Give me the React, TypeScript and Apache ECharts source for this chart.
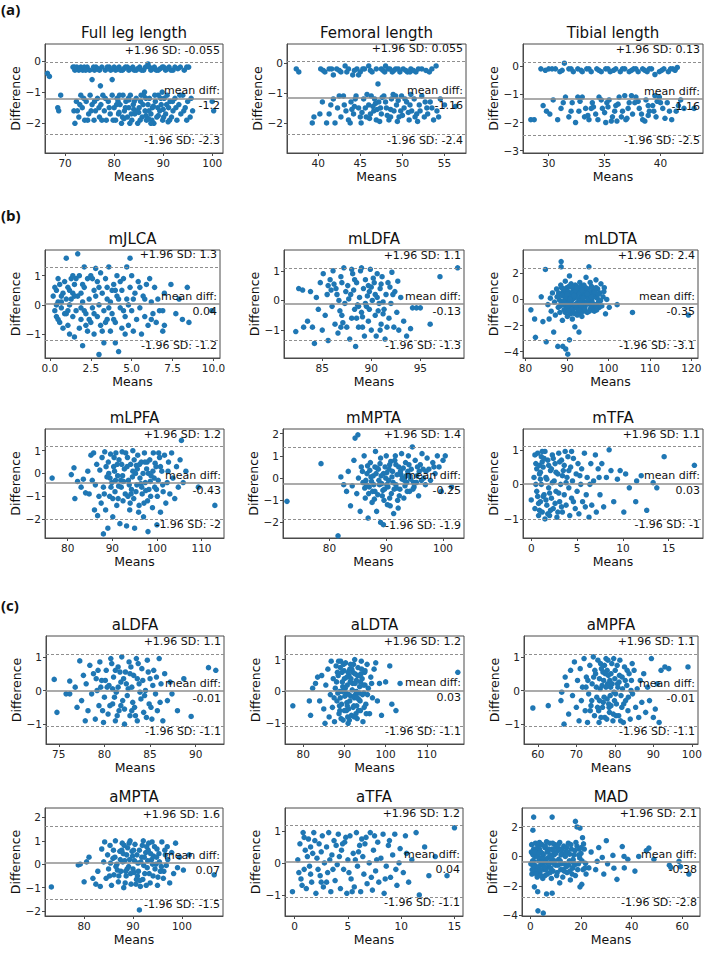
import React, { useEffect, useRef } from "react";
import * as echarts from "echarts";

// ---------- DATA ----------
const titles = ["Full leg length", "Femoral length", "Tibial length", "mJLCA", "mLDFA", "mLDTA", "mLPFA", "mMPTA", "mTFA", "aLDFA", "aLDTA", "aMPFA", "aMPTA", "aTFA", "MAD"];

const fullLegPts = [[71.6,-0.2],[72,-0.3],[72.4,-0.2],[72.8,-0.3],[73.2,-0.2],[73.6,-0.3],[74.5,-0.2],[75,-0.3],[75.5,-0.6],[76.3,-0.2],[77,-0.3],[77.5,-0.2],[78.2,-0.3],[79,-0.2],[79.6,-0.6],[80.3,-0.3],[81,-0.2],[81.7,-0.3],[82.3,-0.2],[83,-0.3],[83.8,-0.2],[84.5,-0.3],[85.2,-0.2],[86,-0.3],[86.9,-0.1],[87.5,-0.3],[88.2,-0.2],[89,-0.3],[89.8,-0.2],[90.5,-0.3],[91.2,-0.2],[92,-0.3],[93.5,-0.2],[94.3,-0.3],[95.2,-0.2],[66.4,-0.4],[66.8,-0.5],[77.2,-0.8],[76,-0.3],
[72.2,-0.25],[73,-0.25],[73.9,-0.2],[74.2,-0.3],[75.8,-0.2],[76.7,-0.25],[78.6,-0.2],[79.3,-0.3],[80,-0.2],[80.7,-0.25],[81.3,-0.3],[82,-0.25],[82.7,-0.2],[83.4,-0.25],[84.1,-0.3],[84.8,-0.25],[85.6,-0.3],[86.4,-0.2],[87.2,-0.2],[87.9,-0.25],[88.6,-0.3],[89.4,-0.25],[90.1,-0.2],[90.9,-0.25],[91.6,-0.3],[92.4,-0.2],[93,-0.25],[94.8,-0.2],[71.9,-0.2],
[68.5,-1.5],[68.7,-1.6],[69.1,-1.1],[72,-2.0],[71.8,-1.6],[72.3,-1.3],[72.8,-1.8],[73.2,-1.1],[73.5,-1.5],[74,-1.9],[74.3,-1.3],[74.8,-1.7],[75.1,-1.1],[75.5,-1.4],[75.9,-1.9],[76.2,-1.6],[76.6,-1.2],[77,-1.8],[77.3,-1.4],[77.7,-1.1],[78,-1.6],[78.4,-1.9],[78.8,-1.3],[79.2,-1.7],[79.6,-1.1],[80,-1.5],[80.3,-1.9],[80.6,-1.2],[80.9,-1.7],[81.2,-1.4],[81.5,-2.0],[81.8,-1.1],[82.1,-1.6],[82.4,-1.3],[82.7,-1.8],[83,-1.5],[83.3,-1.1],[83.6,-1.9],[83.9,-1.4],[84.2,-1.7],[84.5,-1.2],[84.8,-2.0],[85.1,-1.5],[85.4,-1.3],[85.7,-1.8],[86,-1.1],[86.3,-1.6],[86.6,-1.9],[86.9,-1.4],[87.2,-1.2],[87.5,-1.7],[87.8,-1.5],[88.1,-2.0],[88.4,-1.3],[88.7,-1.8],[89,-1.1],[89.3,-1.6],[89.6,-1.4],[89.9,-1.9],[90.2,-1.2],[90.5,-1.7],[90.8,-1.1],[91.1,-1.5],[91.4,-1.3],[91.7,-1.8],[92,-1.6],[92.4,-1.2],[92.8,-1.9],[93.2,-1.4],[93.6,-1.7],[94,-1.1],[94.5,-1.5],[95,-1.3],[95.5,-1.8],[96,-1.6],[100,-1.3],[100.3,-1.6],[84,-1.55],[86.5,-1.75],[82,-1.85],[88,-1.45],[90,-1.55],[85,-1.65],[87,-1.85],[83,-1.25],[81,-1.65],[89,-1.75],[91,-1.95],
[72.5,-1.6],[73,-1.4],[73.8,-1.2],[74.6,-1.9],[75.3,-1.6],[76,-1.3],[76.9,-1.5],[77.5,-1.9],[78.2,-1.2],[79,-1.5],[79.8,-1.9],[80.5,-1.4],[81.1,-1.1],[81.7,-1.8],[82.3,-1.5],[82.9,-1.2],[83.5,-1.7],[84.1,-1.3],[84.7,-1.6],[85.3,-1.9],[85.9,-1.4],[86.5,-1.2],[87.1,-1.6],[87.7,-1.9],[88.3,-1.1],[88.9,-1.5],[89.5,-1.2],[90.1,-1.8],[90.7,-1.4],[91.3,-1.9],[91.9,-1.3],[92.6,-1.5],[93.4,-1.1],[94.2,-1.6],[94.8,-1.9],[95.7,-1.2],[86.2,-1.0],[89.8,-1.0],[83.2,-2.0],[87.5,-2.0],[80.8,-1.3],[85.5,-1.1]];

const femoralPts = [[37.4,-0.2],[37.7,-0.3],[40.3,-0.2],[40.8,-0.3],[41.3,-0.2],[41.8,-0.4],[42.2,-0.2],[42.7,-0.3],[43.2,-0.1],[43.6,-0.2],[44.1,-0.4],[44.6,-0.2],[45,-0.3],[45.5,-0.2],[46,-0.1],[46.4,-0.3],[46.9,-0.2],[47.1,-0.7],[47.5,-0.2],[47.9,-0.3],[48.3,-0.2],[48.8,-0.3],[49.2,-0.2],[49.7,-0.3],[50.1,-0.2],[50.6,-0.3],[51,-0.2],[51.6,-0.3],[52.3,-0.2],[53.5,-0.2],[54,-0.1],[48,-0.1],[44.8,-0.4],
[40.6,-0.25],[41.6,-0.2],[42.5,-0.25],[43.4,-0.3],[44.3,-0.25],[45.3,-0.2],[46.2,-0.25],[47.7,-0.25],[48.5,-0.2],[49,-0.25],[49.5,-0.2],[50.4,-0.25],[50.9,-0.3],[51.3,-0.25],[51.9,-0.2],[52.8,-0.25],[53.2,-0.3],
[39.3,-2.0],[39.5,-1.8],[40.5,-1.3],[41,-2.0],[41.3,-1.7],[41.8,-1.2],[42,-2.0],[42.3,-1.5],[42.7,-1.8],[43,-1.1],[43.3,-1.6],[43.6,-1.9],[43.9,-1.3],[44.2,-1.7],[44.5,-1.1],[44.8,-1.5],[45.1,-2.0],[45.4,-1.2],[45.7,-1.8],[46,-1.4],[46.3,-1.1],[46.6,-1.6],[46.9,-1.9],[47.2,-1.3],[47.5,-1.7],[47.8,-1.1],[48.1,-1.5],[48.4,-1.9],[48.7,-1.2],[49,-1.6],[49.3,-1.4],[49.6,-1.8],[49.9,-1.1],[50.2,-1.5],[50.5,-1.3],[50.8,-1.9],[51.1,-1.6],[51.4,-1.2],[51.7,-1.7],[52,-1.4],[52.3,-1.1],[52.6,-1.8],[52.9,-1.5],[53.3,-1.3],[53.7,-1.9],[54.1,-1.6],[54.5,-1.2],[55,-1.4],[56.3,-1.45],[45.2,-1.65],[46.8,-1.35],[48.2,-1.75],[49.5,-1.25],[50.7,-1.65],[47.3,-1.95],[44.3,-1.45],[51.8,-1.95],[48.9,-1.05],[46.1,-1.85],[50,-1.75],[47,-1.55],[53,-1.7],[45.8,-1.05],
[40.2,-1.7],[41.5,-1.4],[42.5,-1.1],[43.1,-1.4],[43.8,-2.0],[44.4,-1.2],[45,-1.8],[45.6,-1.5],[46.2,-1.7],[46.7,-1.2],[47.4,-1.5],[48,-1.3],[48.6,-1.8],[49.2,-1.1],[49.8,-1.6],[50.3,-1.2],[50.9,-1.4],[51.5,-1.8],[52.1,-1.6],[52.7,-1.3],[53.5,-1.5],[54.3,-1.8],[47.6,-1.15],[49.4,-1.95],[51,-1.05],[44,-1.55],[46.5,-1.45],[48.6,-1.55]];

const tibialPts = [[29.3,-0.1],[30,-0.1],[30.6,-0.1],[31,-0.2],[31.4,0.1],[31.8,-0.1],[32.2,-0.2],[32.6,-0.1],[33,-0.2],[33.4,-0.1],[33.8,-0.2],[34.3,-0.1],[34.7,-0.2],[35.1,-0.1],[35.5,-0.2],[36,-0.1],[36.4,-0.2],[36.8,-0.1],[37.2,-0.2],[37.6,-0.1],[38,-0.2],[38.4,-0.1],[38.8,-0.2],[39.2,-0.1],[39.5,-0.3],[39.9,-0.2],[40.3,-0.1],[40.7,-0.2],[41.1,-0.1],[41.5,-0.05],
[29.7,-0.15],[30.3,-0.1],[31.2,-0.15],[32,-0.1],[32.9,-0.15],[33.6,-0.1],[34.5,-0.15],[35.3,-0.1],[35.8,-0.15],[36.6,-0.1],[37.4,-0.15],[37.8,-0.1],[38.6,-0.15],[39,-0.1],[40.1,-0.15],[40.9,-0.1],[41.3,-0.15],
[28.4,-1.9],[28.7,-1.9],[29.5,-1.4],[29.8,-1.6],[30.4,-1.2],[30.8,-1.9],[31.1,-1.5],[31.5,-1.1],[31.8,-1.8],[32.1,-1.3],[32.4,-2.0],[32.7,-1.6],[33,-1.1],[33.3,-1.5],[33.6,-1.9],[33.9,-1.3],[34.2,-1.7],[34.5,-1.1],[34.8,-1.5],[35.1,-2.0],[35.4,-1.2],[35.7,-1.8],[36,-1.4],[36.3,-1.1],[36.6,-1.6],[36.9,-1.9],[37.2,-1.3],[37.5,-1.7],[37.8,-1.1],[38.1,-1.5],[38.4,-1.9],[38.7,-1.2],[39,-1.6],[39.3,-1.4],[39.6,-1.8],[39.9,-1.1],[40.2,-1.5],[40.6,-1.3],[41,-1.9],[41.4,-1.6],[41.8,-1.2],[42.1,-1.5],[43,-1.5],[35,-1.65],[36.2,-1.35],[37,-1.85],[38,-1.25],[34,-1.45],[39.5,-1.05],[33.5,-1.75],[36.8,-1.05],[35.6,-1.95],[38.9,-1.75],[32.8,-1.25],[40.4,-1.85],
[30.1,-1.7],[31.3,-1.3],[32,-1.6],[32.6,-1.1],[33.2,-1.8],[33.8,-1.5],[34.4,-1.9],[35.2,-1.3],[35.9,-1.6],[36.5,-1.8],[37.1,-1.5],[37.7,-1.3],[38.3,-1.7],[38.9,-1.4],[39.4,-1.6],[40,-1.3],[40.8,-1.6],[34.7,-1.2],[36.1,-1.95],[37.4,-1.05],[38.6,-1.95],[35.3,-1.45],[39.7,-1.25],[41.6,-1.4]];

const mJLCAPts = [[0.2,0.3],[0.3,-0.2],[0.4,0.5],[0.4,-0.4],[0.5,0.9],[0.5,0.1],[0.6,-0.6],[0.6,0.7],[0.7,-0.1],[0.8,0.4],[0.8,-0.8],[0.9,0.8],[0.9,-0.3],[1.0,1.6],[1.0,0.2],[1.1,-0.7],[1.1,0.6],[1.2,-1.0],[1.2,0.0],[1.3,0.9],[1.4,-0.4],[1.4,0.4],[1.5,-1.1],[1.5,0.7],[1.6,-0.2],[1.7,1.75],[1.7,0.3],[1.8,-0.8],[1.8,1.0],[1.9,-0.5],[2.0,-1.4],[2.0,0.1],[2.1,1.3],[2.1,0.6],[2.2,-0.3],[2.3,-0.9],[2.3,0.9],[2.4,0.2],[2.5,-0.6],[2.5,1.0],[2.6,-0.1],[2.7,0.5],[2.7,-1.0],[2.8,1.25],[2.9,-0.4],[2.9,0.8],[3.0,-1.7],[3.0,0.0],[3.1,1.1],[3.1,-0.7],[3.2,0.4],[3.3,-1.3],[3.3,-0.2],[3.4,0.9],[3.5,-0.5],[3.5,0.6],[3.6,1.3],[3.7,-0.9],[3.7,0.1],[3.8,-0.3],[3.9,0.7],[4.0,-1.3],[4.0,-0.6],[4.1,1.0],[4.1,0.3],[4.2,-1.6],[4.3,-0.1],[4.4,0.5],[4.4,-0.8],[4.5,0.9],[4.6,-0.4],[4.7,1.3],[4.7,0.2],[4.8,-0.7],[4.9,1.6],[4.9,0.6],[5.0,-0.2],[5.0,1.0],[5.1,-0.9],[5.2,0.4],[5.3,-0.5],[5.4,0.8],[5.5,-0.1],[5.6,-1.0],[5.7,0.3],[5.8,-0.4],[5.9,0.7],[6.0,-0.7],[6.1,0.9],[6.2,0.1],[6.3,-0.3],[6.4,0.6],[6.5,-0.6],[6.6,0.2],[6.7,-0.2],[6.9,-0.2],[6.9,-0.9],[7.0,-0.7],[7.0,0.4],[7.4,0.7],[7.7,-0.3],[7.9,0.2],[8.1,-0.5],[8.4,0.6],[8.5,-0.6],[9.9,-0.2],[1.3,0.2],[2.6,0.9],[3.4,-0.6],[4.2,0.2],[1.9,-0.1],[0.7,0.1],[3.8,0.5],[2.2,-0.7],[4.8,0.0],[1.5,0.3],
[0.3,0.6],[0.5,-0.5],[0.7,0.3],[1.0,-0.3],[1.2,0.5],[1.6,0.9],[1.9,0.4],[2.1,-0.2],[2.4,-0.5],[2.8,0.3],[3.2,-0.9],[3.6,-0.1],[4.0,0.5],[4.3,0.8],[4.6,-1.0],[5.1,0.2],[5.5,0.6],[6.2,-0.5],[2.0,0.7],[3.0,0.6],[3.9,-0.5],[1.1,-0.2],[2.7,-0.3],[4.5,-0.2],[0.4,0.0],[1.4,1.0],[3.5,0.2],[5.8,0.2]];

const mLDFAPts = [[82.3,-1.05],[82.6,0.4],[83,0.35],[83.1,-0.9],[83.5,-0.7],[83.8,0.3],[84,-0.9],[84.2,-1.45],[84.4,0.1],[84.6,-0.3],[84.8,0.6],[85,-1.0],[85.1,0.9],[85.3,-0.5],[85.5,0.2],[85.6,-1.35],[85.8,0.7],[86,-0.2],[86.1,1.0],[86.3,-0.8],[86.4,0.4],[86.6,-1.1],[86.7,0.0],[86.9,0.8],[87,-0.5],[87.2,1.1],[87.3,-0.1],[87.5,-0.9],[87.6,0.5],[87.8,-1.3],[87.9,0.2],[88,-0.6],[88.1,0.9],[88.3,-0.3],[88.4,-1.55],[88.5,0.6],[88.7,-0.9],[88.8,0.1],[88.9,1.0],[89,-0.4],[89.2,0.4],[89.3,-1.2],[89.4,0.7],[89.5,-0.2],[89.7,-0.7],[89.8,0.3],[89.9,1.05],[90,-1.0],[90.1,0.0],[90.3,0.6],[90.4,-0.5],[90.5,-1.2],[90.6,0.9],[90.8,-0.1],[90.9,0.4],[91,-0.8],[91.1,0.8],[91.3,-0.3],[91.4,-1.3],[91.5,0.2],[91.7,0.6],[91.8,-0.6],[92,-0.1],[92.1,0.95],[92.3,-0.9],[92.4,0.3],[92.6,-0.4],[92.8,-1.0],[93,0.1],[93.3,-0.7],[93.6,-1.2],[94,-0.95],[94.2,-0.25],[94.6,-0.25],[95,-0.25],[96,-0.8],[97,0.8],[98.8,1.1],[86.2,0.55],[87.1,-0.75],[88.2,0.35],[89.1,-0.55],[90.2,0.75],[91.2,-0.45],[87.7,0.05],[88.6,-0.15],[89.6,0.15],[90.7,-0.35],[86.8,-0.35],[85.9,0.35],[91.9,0.45],[92.7,0.65],[89,1.1],[88,1.05],
[86.5,0.2],[87.4,0.3],[88.3,0.7],[89.1,-0.9],[89.7,0.5],[90.4,0.2],[91.2,-0.05],[91.6,-0.9],[87,0.6],[88.7,-0.2],[90,0.45],[91,0.55],[86.9,-0.9],[89.4,-0.1],[90.9,-1.0],[92.2,0.2],[85.6,0.5],[88.5,-0.6],[90.6,0.1],[89.8,-0.3]];

const mLDTAPts = [[81.3,-0.8],[82.2,-1.5],[82.4,-2.9],[83.8,0.2],[84.2,-1.7],[84.8,2.3],[85,-3.25],[85.7,-1.5],[85.4,-0.4],[86,0.1],[86.2,-0.9],[86.5,0.5],[86.8,-2.5],[87,-0.2],[87.2,-1.2],[87.5,0.8],[87.8,-3.6],[87.9,-0.6],[88.1,0.3],[88.3,-1.0],[88.5,1.1],[88.6,2.9],[88.6,2.5],[88.7,-0.3],[88.9,-1.6],[89,-3.6],[89.1,0.6],[89.3,-0.8],[89.5,0.0],[89.6,1.4],[89.7,-3.8],[89.8,-0.5],[90,0.9],[90.1,-1.3],[90.2,-4.2],[90.3,0.2],[90.4,-0.2],[90.6,1.8],[90.6,-3.1],[90.7,-0.9],[90.8,0.5],[91,-4.5],[91,1.2],[91.1,-0.4],[91.3,-1.5],[91.4,0.1],[91.6,0.7],[91.7,-0.7],[91.9,-2.1],[92,0.3],[92.1,-1.1],[92.3,1.0],[92.4,-0.3],[92.6,0.6],[92.7,-0.9],[92.9,-2.5],[93,0.0],[93.1,1.3],[93.3,-0.6],[93.4,0.4],[93.6,-1.3],[93.7,0.9],[93.9,-0.2],[94,-0.9],[94.2,0.6],[94.4,-0.5],[94.6,1.7],[94.7,0.2],[94.9,-1.0],[95,0.8],[95.2,-0.3],[95.3,2.5],[95.5,0.4],[95.7,-0.7],[95.9,1.0],[96,-0.1],[96.3,0.6],[96.5,-0.6],[96.8,0.3],[97,1.5],[97.1,-0.4],[97.4,0.8],[97.6,-0.2],[97.9,0.5],[98.2,1.2],[98.4,-0.5],[98.7,0.2],[99,0.9],[99.3,-1.1],[99.6,0.0],[100.2,-0.6],[102.1,-0.4],[105.8,-1.0],[119.3,-1.2],[89.2,0.35],[90.5,-0.65],[91.8,0.85],[92.5,-0.45],[93.8,0.15],[91.2,-0.05],[90,-0.25],[92.2,0.45],[94.1,-0.25],[89.9,0.55],[91.5,-1.05],[93.2,-1.05],[88.2,-0.05],[96.6,-0.9],[95.6,1.3],
[88,0.5],[88.8,-0.2],[89.4,0.8],[89.9,-0.7],[90.3,0.6],[90.9,-0.3],[91.3,0.9],[91.8,0.1],[92.2,-0.6],[92.8,0.8],[93.3,0.2],[93.8,-0.4],[94.3,0.3],[94.8,-0.2],[95.4,0.6],[95.8,-0.5],[96.4,0.2],[97.3,0.1],[90.8,-1.1],[92,1.1],[93.5,1.0],[91,0.3],[92.7,-0.2],[94.5,0.9],[89.7,0.1],[96.1,0.9],[97.8,-0.6],[98.9,0.6],[90.2,-0.5],[93,-0.8]];
const mLDTAPtsB = [[87.6,0.2],[88.4,-0.5],[88.9,0.3],[89.3,-0.2],[89.6,-1.0],[90.1,0.4],[90.5,1.0],[90.7,0.0],[91.2,-0.8],[91.5,0.5],[91.9,-0.4],[92.3,0.2],[92.5,-1.2],[92.9,0.5],[93.2,-0.3],[93.6,0.7],[93.9,0.1],[94.3,-0.7],[94.6,0.5],[95.1,0.0],[95.4,-0.9],[95.7,0.3],[96.2,-0.3],[96.7,0.6],[97.2,-0.8],[97.6,0.4],[98.1,-0.1],[91.1,1.0],[92.1,0.7],[93.1,-0.1],[94.1,1.1],[90.4,-0.9],[89.1,-0.4],[95.9,0.2],[97,0.9],[91.7,0.3],[93.4,-0.5],[92.4,0.9],[94.9,0.4],[88.7,0.9]];

const mLPFAPts = [[76.5,-0.2],[80.8,-0.05],[81.4,0.25],[81.6,-1.1],[82.2,-0.35],[83,-0.6],[83.5,-0.25],[84,-0.85],[84.5,0.1],[84.8,-0.9],[85.2,0.8],[85.5,-0.3],[85.8,0.9],[86,-1.6],[86.2,-0.5],[86.5,0.4],[86.7,-1.85],[87,-1.0],[87.2,0.15],[87.5,-1.3],[87.7,0.7],[88,-2.65],[88,-0.6],[88.3,0.95],[88.5,-1.6],[88.8,-0.15],[89,-2.4],[89.1,0.5],[89.4,-1.0],[89.6,0.85],[89.9,-0.4],[90.1,-1.9],[90.3,0.3],[90.6,-0.8],[90.8,0.9],[91,-1.4],[91.2,-0.1],[91.5,0.6],[91.7,-2.2],[92,-0.6],[92.2,0.95],[92.4,-1.2],[92.7,0.2],[92.9,-0.9],[93.2,-2.3],[93.4,0.7],[93.6,-0.3],[93.9,-1.6],[94.1,0.4],[94.3,-0.7],[94.6,1.0],[94.8,-1.1],[95,-2.4],[95.2,0.0],[95.5,-0.5],[95.7,0.8],[96,-1.4],[96.2,-0.2],[96.5,0.5],[96.7,-0.9],[97,-1.9],[97.2,0.9],[97.4,-0.4],[97.7,0.2],[97.9,-1.2],[98,-2.55],[98.2,-0.7],[98.4,0.6],[98.7,-0.1],[99,-1.5],[99.2,0.9],[99.5,-0.6],[99.8,0.3],[100,-2.25],[100.1,-1.0],[100.3,-0.3],[100.6,0.7],[100.8,-1.7],[101.1,0.1],[101.4,-0.8],[101.7,0.8],[102,-1.3],[102.3,-0.4],[102.6,0.5],[102.9,-0.9],[103.3,0.9],[103.6,-0.2],[104,-1.1],[104.4,0.3],[104.8,-0.6],[105.2,0.6],[105.5,1.45],[105.9,-0.4],[106.5,0.1],[109.3,-0.6],[113,-1.4],[90.5,0.1],[92.5,-0.35],[94.5,-0.15],[96.4,-0.45],[98.5,-0.35],[91.4,-0.55],[93.5,-1.0],[95.4,0.35],[97.5,-0.75],[99.6,0.45],[89.7,-0.6],[94,-1.3],
[88.6,0.3],[89.5,-0.2],[90.4,0.7],[91.3,-1.1],[92.1,0.4],[93,0.9],[93.8,-0.5],[94.6,0.1],[95.3,-0.8],[96.1,0.4],[96.9,0.0],[97.8,0.5],[98.6,-1.0],[99.4,-0.2],[100.4,0.9],[101.3,-0.5],[91.9,-0.3],[94.9,0.6],[97.1,-1.3],[90.1,-1.1],[95.9,-1.7],[99.1,0.1],[88.2,-0.9],[102.5,0.1]];
const mLPFAPtsB = [[89.2,0.0],[90.7,-0.3],[92.3,-0.1],[93.3,0.3],[94.2,-0.9],[95.6,0.2],[96.6,-0.6],[98.1,0.0],[99.9,-0.7],[91.1,0.4],[97.3,0.5],[100.8,0.3]];

const mMPTAPts = [[72.5,-1.05],[78.5,0.65],[81.5,-2.6],[82,0.05],[82.5,-0.3],[83,-0.6],[83.3,0.3],[83.7,-1.25],[84,-0.35],[84.3,0.8],[84.5,1.8],[84.8,-0.7],[85,1.95],[85.1,0.0],[85.4,-1.5],[85.6,0.5],[85.9,-0.2],[86.1,1.0],[86.3,-0.9],[86.6,0.2],[86.8,-1.8],[87,-0.4],[87.2,0.7],[87.5,-1.1],[87.7,0.1],[88,-0.6],[88.1,1.2],[88.3,-1.5],[88.6,0.4],[88.8,-0.3],[89,-2.0],[89,0.9],[89.3,-0.8],[89.5,-2.1],[89.5,0.2],[89.7,-0.5],[90,1.0],[90.2,-1.2],[90.4,-0.1],[90.6,0.6],[90.9,-0.7],[91.1,0.3],[91.3,-1.6],[91.5,0.8],[91.7,-0.3],[92,-1.0],[92.2,0.5],[92.4,-0.5],[92.7,1.1],[92.9,0.0],[93.1,-0.9],[93.4,0.7],[93.6,-0.2],[93.9,1.0],[94.1,-0.6],[94.4,0.4],[94.6,1.4],[94.9,-0.4],[95.1,0.8],[95.4,0.1],[95.7,-0.8],[96,0.6],[96.3,1.1],[96.6,0.0],[96.9,-0.3],[97.2,0.9],[97.5,0.4],[97.8,-0.1],[98.2,0.7],[98.6,0.2],[99,1.0],[99.3,0.5],[99.7,-0.6],[100,0.8],[100.4,1.0],[101.5,-0.4],[87.4,-0.15],[88.4,0.45],[89.2,-0.25],[90.1,0.25],[91,0.05],[91.8,-0.45],[92.6,0.15],[93.3,-0.35],[86.7,0.55],[87.9,-0.95],[90.7,-1.25],[92.1,-1.35],[94.3,-0.05],[95.8,0.3],[86.2,-0.45],[88.9,0.65],[91.6,1.0],[93.8,0.3],
[86.4,-0.1],[87.1,0.35],[87.8,-0.3],[88.5,-0.75],[89.1,0.1],[89.8,0.5],[90.3,-0.4],[91.2,-0.2],[91.9,0.15],[92.3,-0.8],[93,0.45],[93.7,-0.6],[94.2,0.1],[94.8,-0.2],[95.5,0.5],[96.2,-0.1],[97,0.3],[89.6,-1.0],[90.8,0.75],[88.2,0.2],[92.8,-0.05],[86.9,-0.7],[98.4,0.5]];
const mMPTAPtsB = [[85.8,0.3],[86.5,-0.3],[87.3,0.05],[88,0.5],[88.7,-0.1],[89.4,-0.55],[90.1,-0.3],[90.5,0.4],[91.4,-0.5],[92.5,0.3],[93.2,-0.1],[94,0.6],[94.7,-0.5],[95.3,-0.2],[96.5,0.4],[89.9,0.0],[91.7,0.6],[93.5,0.1],[87.6,-0.6],[90.6,-0.9]];

const mTFAPts = [[0,-0.45],[0.3,0.2],[0.4,-0.7],[0.5,0.6],[0.6,-0.2],[0.7,0.9],[0.8,-0.9],[0.9,0.3],[1.0,-0.5],[1.1,0.8],[1.1,0.0],[1.2,-0.8],[1.3,0.5],[1.4,-0.3],[1.5,0.95],[1.5,-1.0],[1.6,0.2],[1.7,-0.6],[1.8,0.7],[1.9,-0.1],[2.0,-0.9],[2.1,0.4],[2.2,-0.4],[2.3,0.85],[2.4,-0.7],[2.5,0.1],[2.6,0.6],[2.7,-0.2],[2.8,-0.95],[2.9,0.3],[3.0,0.9],[3.1,-0.5],[3.2,0.0],[3.3,0.7],[3.4,-0.8],[3.5,0.4],[3.6,-0.3],[3.7,0.95],[3.8,-0.6],[3.9,0.2],[4.0,0.8],[4.1,-0.1],[4.2,-0.9],[4.3,0.5],[4.4,-0.4],[4.5,0.1],[4.6,0.75],[4.8,-0.7],[4.9,0.3],[5.0,-0.2],[5.1,0.6],[5.2,-0.85],[5.4,0.0],[5.5,0.45],[5.6,-0.5],[5.8,0.9],[6.0,-0.3],[6.1,0.2],[6.3,-0.95],[6.5,0.6],[6.6,-0.6],[6.8,0.1],[7.0,0.85],[7.1,-0.8],[7.3,0.45],[7.5,-0.3],[7.7,0.6],[7.9,-0.65],[8.2,0.2],[8.5,1.0],[8.7,0.4],[9.0,-0.5],[9.4,0.15],[9.7,0.4],[10.1,-0.8],[10.3,0.3],[10.7,-0.1],[11.4,-0.5],[11.5,0.1],[12,0.25],[12.6,-0.75],[13.3,0.05],[13.7,-0.1],[14.5,0.8],[17.8,0.55],[0.9,0.55],[1.3,-0.35],[1.7,0.15],[2.2,0.45],[2.6,-0.55],[3.0,-0.25],[3.4,0.25],[1.0,0.15],[0.6,0.45],[2.0,-0.25],[0.8,-0.55],[1.2,0.65],[2.4,0.75],[3.6,0.55],[4.4,0.95],
[0.5,0.0],[0.7,-0.35],[1.0,0.35],[1.4,0.75],[1.6,-0.45],[1.9,0.55],[2.1,-0.75],[2.3,0.05],[2.7,0.35],[3.1,0.65],[3.3,-0.65],[3.8,0.05],[4.1,0.4],[4.6,-0.5],[5.3,0.25],[5.9,-0.65],[6.4,0.0],[7.4,0.2],[0.4,0.85],[1.8,-0.85],[2.9,-0.8],[1.2,0.95],[0.9,-0.75]];

const aLDFAPts = [[74.5,0.33],[74.8,-0.65],[75.8,-0.1],[76.2,0.28],[76.2,-0.1],[76.8,0.1],[77,-0.5],[77.3,0.88],[77.5,-0.3],[77.7,0.45],[77.9,-0.9],[78,0.2],[78.2,-0.6],[78.4,0.75],[78.6,-0.1],[78.8,0.5],[79,-0.85],[79.2,0.0],[79.4,-0.45],[79.5,0.85],[79.7,0.3],[79.9,-0.95],[80,-0.2],[80.2,0.6],[80.4,-0.7],[80.5,0.15],[80.7,0.95],[80.9,-0.4],[81,0.4],[81.2,-0.9],[81.3,-0.05],[81.5,0.7],[81.6,-0.6],[81.8,0.25],[81.9,1.0],[82,-0.3],[82.2,-1.0],[82.3,0.55],[82.5,-0.15],[82.7,0.85],[82.8,-0.75],[83,0.1],[83.2,0.45],[83.3,-0.5],[83.5,0.95],[83.6,-0.9],[83.8,0.2],[84,-0.25],[84.1,0.65],[84.3,-0.65],[84.5,0.0],[84.7,0.9],[84.9,-0.4],[85,0.35],[85.2,-0.85],[85.4,0.6],[85.6,-0.1],[85.8,-0.6],[86,0.95],[86.2,0.2],[86.4,-0.9],[86.6,0.5],[86.9,-0.3],[87.2,0.25],[87.4,-0.1],[88,-0.6],[88.7,0.35],[89.5,-0.77],[91.4,0.68],[92.2,0.6],[80.1,0.3],[81.1,-0.2],[82.1,0.35],[83.1,-0.35],[84.2,0.3],[80.6,-0.45],[82.6,0.05],[83.9,-0.05],[81.7,0.55],[79.6,0.1],[84.6,-0.8],[85.3,0.15],[82.9,0.7],[80.8,0.8],[83.4,-0.75],[81.4,-0.75],[79.3,0.6],
[80.3,0.1],[81.2,0.6],[81.8,-0.45],[82.4,0.2],[83,-0.6],[83.6,0.35],[84.4,-0.15],[85.1,-0.5],[79.8,-0.6],[80.9,0.05],[82.8,0.5],[84.8,0.55],[85.7,0.4],[81.5,0.1],[83.7,0.8],[79.1,0.35],[86.1,-0.35],[82.2,-0.55]];

const aLDTAPts = [[77.5,-0.45],[81.5,-0.3],[81.8,-0.75],[82.3,0.1],[83,0.25],[83.5,0.45],[84,-0.3],[84.5,0.5],[85,-0.55],[85.3,-1.0],[85.5,0.2],[86,0.7],[86.3,-0.8],[86.6,-0.1],[86.8,0.95],[87.1,-0.5],[87.3,0.4],[87.6,-0.95],[87.8,0.1],[88,0.8],[88.2,-0.3],[88.5,0.5],[88.7,-0.7],[88.9,0.0],[89.1,0.95],[89.3,-0.4],[89.5,0.3],[89.7,-0.9],[89.9,0.65],[90.1,-0.15],[90.3,0.9],[90.5,-0.6],[90.7,0.2],[90.9,-1.0],[91.1,0.5],[91.3,-0.3],[91.5,0.85],[91.7,-0.75],[91.9,0.05],[92.1,0.6],[92.3,-0.45],[92.5,1.0],[92.7,-0.1],[92.9,0.35],[93.1,-0.85],[93.3,0.75],[93.5,-0.25],[93.7,0.15],[93.9,-0.6],[94.1,0.95],[94.3,0.4],[94.5,-0.95],[94.7,-0.05],[94.9,0.6],[95.2,-0.4],[95.5,0.85],[95.8,0.1],[96.1,-0.7],[96.4,0.45],[96.8,-0.2],[97.2,0.7],[97.6,0.9],[98,-0.3],[98.5,0.25],[99,-0.75],[100,0.3],[101,0.8],[101.5,-0.4],[102.5,-0.6],[103.5,0.25],[117.5,0.6],[90,0.4],[91,-0.55],[92,0.25],[93,-0.45],[94,0.55],[90.6,-0.35],[92.6,0.55],[89.6,0.15],[91.6,-0.15],[93.6,-0.05],[88.4,-0.05],[95,0.2],[89.2,-0.85],[92.8,-0.7],
[88.1,0.3],[88.8,-0.45],[89.4,0.6],[90.2,0.1],[90.8,-0.8],[91.4,0.3],[91.8,0.7],[92.4,-0.2],[93.2,0.5],[93.8,-0.3],[94.6,0.2],[95.3,-0.7],[89,0.75],[90.4,-0.05],[91.2,-0.9],[92.2,0.85],[93.4,-0.6],[94.2,0.7],[90.9,0.6],[92.9,0.0],[95.6,-0.1],[96.6,0.25],[87.5,-0.2],[88.6,0.95]];
const aLDTAPtsB = [[88.3,0.6],[89,-0.2],[89.5,0.0],[90,-0.6],[90.6,0.45],[91.1,-0.1],[91.6,0.4],[92.1,-0.5],[92.6,0.25],[93.1,-0.2],[93.7,0.5],[94.4,-0.1],[95,0.65],[89.8,0.85],[91.3,0.7],[92.4,-0.8],[93.9,0.3],[90.7,-0.45],[88.9,-0.6],[94.8,-0.5]];

const aMPFAPts = [[58.7,-0.52],[62.7,-0.45],[66,-0.3],[66.2,-0.05],[66.8,-1.0],[67.1,0.4],[67.5,0.15],[68,-0.7],[68.5,0.6],[69,-0.15],[69.5,0.85],[70,-0.5],[70.3,0.3],[70.7,-0.9],[71,0.65],[71.3,-0.3],[71.6,0.1],[72,0.95],[72.3,-0.6],[72.6,0.4],[72.9,-0.95],[73.2,-0.1],[73.5,0.75],[73.8,-0.45],[74.1,0.2],[74.4,1.0],[74.7,-0.75],[75,0.5],[75.3,-0.2],[75.6,0.9],[75.9,-0.95],[76.2,0.05],[76.5,0.65],[76.8,-0.5],[77.1,0.3],[77.4,-0.8],[77.7,0.95],[78,-0.25],[78.3,0.45],[78.6,-0.65],[78.9,0.1],[79.2,0.8],[79.5,-0.9],[79.8,-0.05],[80.1,0.6],[80.4,-0.4],[80.7,0.2],[81,-0.75],[81.3,0.9],[81.6,-0.15],[81.9,0.4],[82.2,-0.95],[82.5,0.7],[82.8,-0.3],[83.1,0.15],[83.4,-0.6],[83.7,0.5],[84,-0.85],[84.3,0.3],[84.6,-0.1],[85,0.6],[85.4,-0.5],[85.8,0.05],[86.2,-0.8],[86.6,0.3],[87,-0.35],[87.5,0.5],[88,-0.65],[88.5,0.1],[89,-0.3],[89.5,0.95],[90,-0.8],[90.5,-0.55],[91,0.2],[91.5,-0.95],[92,0.6],[93,0.7],[94,0.65],[99,0.7],[76,0.35],[77,-0.35],[78,0.6],[79,-0.45],[80,0.35],[76.7,0.15],[78.8,-0.15],[80.6,0.75],[75.8,-0.6],[77.9,-0.85],
[73,0.3],[74,-0.3],[74.8,0.6],[75.5,-0.5],[76.3,0.8],[77.2,-0.2],[78.1,0.2],[79,0.5],[79.9,-0.3],[80.8,0.1],[81.8,-0.5],[82.7,0.3],[83.5,-0.2],[77.5,0.5],[78.5,-0.5],[79.7,0.95],[81.2,0.45],[76.4,-0.8],[80.3,-0.75],[82,0.05],[84.5,0.8],[78.7,0.3]];
const aMPFAPtsB = [[72.5,0.1],[73.6,-0.6],[74.5,0.4],[75.2,0.1],[76,-0.3],[76.9,0.55],[77.7,0.1],[78.4,-0.4],[79.3,0.2],[80.2,-0.1],[81.1,0.25],[82.3,-0.4],[83.2,0.6],[84.2,0.0],[77.3,0.75],[79.6,-0.7],[81.5,-0.9],[78.2,0.9]];

const aMPTAPts = [[73.3,-0.97],[78.8,-0.03],[79.2,0.0],[80,-0.75],[80.5,0.1],[81,0.3],[81.8,-0.6],[82.4,-0.85],[82.8,-0.3],[83.3,-0.95],[83.6,0.65],[84,0.1],[84.2,0.95],[84.5,-0.6],[84.8,0.4],[85,-0.2],[85.3,0.8],[85.6,-0.9],[85.9,0.25],[86.1,-0.45],[86.4,1.0],[86.7,0.0],[87,-0.75],[87.3,0.55],[87.5,-0.3],[87.8,0.9],[88.1,-1.0],[88.3,0.15],[88.6,-0.5],[88.9,0.7],[89.1,-0.1],[89.4,1.0],[89.6,-0.85],[89.9,0.35],[90.2,-0.35],[90.4,0.85],[90.7,-0.65],[91,0.05],[91.3,-1.95],[91.3,0.6],[91.5,-0.95],[91.8,0.3],[92.1,1.0],[92.4,-0.4],[92.6,0.5],[92.9,-0.15],[93.2,0.9],[93.5,-0.8],[93.8,0.2],[94.1,-0.5],[94.4,0.75],[94.7,0.0],[95,-0.9],[95.3,0.45],[95.6,-0.3],[95.9,0.95],[96.2,-0.6],[96.5,0.6],[96.8,-0.05],[97.1,0.2],[97.5,-0.8],[97.9,0.5],[98.3,-0.4],[98.7,0.9],[99.1,-0.15],[99.5,0.3],[100.3,-0.25],[101.5,0.4],[106.6,-0.45],[86,0.6],[87.4,0.2],[88.4,-0.8],[89.8,0.55],[90.8,0.4],[92,-0.65],[93,0.15],[94.2,0.35],[95.1,-0.55],[88,0.45],[90,-0.2],[92.2,-0.05],[86.8,-0.25],[85.4,0.05],[93.9,0.95],
[86.3,0.3],[87.1,-0.5],[87.9,0.1],[88.7,0.4],[89.5,-0.4],[90.3,0.15],[91.1,-0.3],[91.9,0.8],[92.7,-0.9],[93.6,0.45],[94.5,-0.2],[95.4,0.1],[96.3,-0.3],[97,0.75],[89.2,0.9],[90.6,-0.85],[93.1,0.6],[85.2,-0.5],[88.8,-0.2],[94.9,0.65]];
const aMPTAPtsB = [[86.5,-0.1],[87.7,0.6],[88.5,-0.3],[89.3,0.2],[90.1,0.6],[90.9,-0.5],[91.6,0.1],[92.3,0.3],[93.3,-0.4],[94,0.0],[94.8,0.3],[95.8,-0.1],[96.6,0.4],[88.2,0.8],[92.8,0.75],[91.4,-0.7]];

const aTFAPts = [[-0.2,-0.9],[0.3,0.1],[0.5,0.6],[0.6,-0.5],[0.8,0.95],[0.9,-0.2],[1.0,0.4],[1.1,-0.8],[1.3,0.75],[1.4,-0.1],[1.6,-0.6],[1.7,0.3],[1.8,0.95],[2.0,-0.95],[2.1,0.15],[2.3,0.6],[2.4,-0.4],[2.6,0.85],[2.7,-0.75],[2.8,0.0],[3.0,0.5],[3.1,-0.3],[3.2,0.95],[3.4,-0.9],[3.5,0.25],[3.7,0.7],[3.8,-0.55],[4.0,-0.05],[4.1,0.9],[4.3,-0.8],[4.4,0.4],[4.6,-0.2],[4.7,0.65],[4.9,-0.95],[5.0,0.1],[5.2,0.85],[5.3,-0.5],[5.5,0.3],[5.6,-0.75],[5.8,0.95],[5.9,-0.1],[6.1,0.55],[6.2,-0.9],[6.4,0.2],[6.5,-0.35],[6.7,0.8],[6.8,-0.65],[7.0,0.0],[7.1,0.95],[7.3,-0.85],[7.4,0.4],[7.6,-0.25],[7.8,0.65],[7.9,-0.6],[8.1,0.15],[8.3,0.9],[8.4,-0.95],[8.6,-0.1],[8.8,0.55],[9.0,-0.45],[9.2,0.25],[9.4,0.9],[9.6,-0.7],[9.9,0.45],[10.2,-0.3],[10.4,0.85],[10.7,-0.6],[11,0.1],[11.4,0.95],[11.7,-1.0],[12.2,0.5],[12.6,-0.4],[13.2,0.2],[14.3,-0.4],[15,1.1],[1.2,0.2],[2.2,-0.2],[3.3,0.1],[4.2,0.2],[5.1,-0.3],[6.0,0.35],[7.2,-0.45],[0.7,-0.7],[2.5,-0.6],[3.9,0.55],[6.6,0.6],[8.9,0.7],[1.5,0.5],[4.8,0.8],[9.8,0.0],
[0.4,-0.3],[1.5,-0.35],[2.5,0.35],[3.6,-0.2],[4.5,0.6],[5.4,-0.9],[6.3,0.75],[7.7,0.1],[8.5,-0.5],[9.5,-0.2],[10.5,0.3],[1.9,0.7],[3.0,-0.6],[5.7,0.1],[7.5,0.85],[0.9,0.8]];

const madPts = [[0.2,-0.5],[0.5,0.8],[0.6,-1.2],[0.8,0.2],[1.0,1.78],[1.0,-0.6],[1.3,2.67],[1.3,0.5],[1.5,-1.0],[1.6,-2.07],[1.8,0.0],[2.0,0.9],[2.2,-0.8],[2.5,0.4],[2.7,-1.4],[2.9,-2.4],[3.0,-3.7],[3.0,0.7],[3.3,-0.3],[3.6,0.95],[3.8,-1.1],[4.0,0.3],[4.3,-0.6],[4.6,0.8],[4.9,-1.5],[5.1,-3.85],[5.1,0.1],[5.4,-0.9],[5.7,0.6],[6.0,-0.2],[6.4,-2.55],[6.4,1.0],[6.7,-1.2],[7.0,0.35],[7.3,-0.7],[7.6,0.9],[8.0,-0.4],[8.3,-1.5],[8.6,2.67],[8.6,-2.5],[8.6,0.5],[9.0,-1.0],[9.3,0.1],[9.7,0.8],[10,-0.6],[10.4,-1.3],[10.8,0.4],[11.2,-0.2],[11.6,-1.8],[11.6,0.95],[12,-0.9],[12.4,0.2],[12.8,-1.4],[13.2,0.7],[13.6,-0.5],[14,0.3],[14.5,-1.1],[15,0.9],[15.4,-0.3],[15.8,-1.6],[16.2,0.5],[16.7,-0.8],[17.2,0.1],[17.8,2.38],[17.8,-1.3],[18.4,2.0],[18.4,0.7],[19,-0.5],[19.6,1.93],[19.6,-2.07],[20,0.2],[20.3,-1.9],[20.6,1.27],[20.8,-0.9],[21.3,0.5],[21.8,-0.47],[22,-1.2],[23.1,-0.78],[24,0.3],[25.8,-0.9],[26.4,-0.33],[27,0.6],[28.4,-0.07],[29,-1.2],[30,1.07],[30.5,-0.5],[32.6,0.07],[33,-0.8],[34.2,-1.56],[36.3,0.67],[37,0.0],[37.1,-0.78],[38.5,-0.2],[41.3,-1.0],[42.8,0.0],[45.8,0.4],[46.8,0.57],[48.8,-0.2],[54.9,-0.6],[55.5,-0.75],[58.7,-0.33],[59.3,-0.7],[62.6,-1.2],[2.3,0.1],[4.4,-0.1],[6.5,-0.4],[9.5,-0.3],[11.5,0.5],[13,-0.9],[15.5,0.15],[17,-0.4],[1.2,-0.3],[3.5,0.55],[7.8,-1.1],[10.2,0.65],[14.2,-0.7],[16.5,-1.2],[19.5,-0.1],[5.8,-1.3],[12.2,-0.5],[2.6,-1.0],[18,0.95],[21,0.85],
[0.4,0.3],[0.7,-0.9],[1.1,0.1],[1.7,-0.6],[2.1,0.5],[2.4,-1.2],[2.8,0.0],[3.2,-0.7],[3.7,0.4],[4.1,-1.3],[4.7,0.2],[5.3,-0.4],[5.9,0.7],[6.2,-0.9],[6.9,-0.1],[7.4,0.5],[8.1,-0.8],[8.8,0.9],[9.4,-0.5],[10,0.2],[10.6,-1.1],[11,0.8],[11.8,-0.3],[12.6,0.5],[13.4,-1.0],[14.3,0.6],[15.2,-0.6],[16,0.8],[16.9,-0.2],[17.6,0.4],[18.7,-0.9],[19.3,0.5],[20.4,-0.3],[21.5,-0.8]];
const madPtsB = [[0.9,-0.3],[1.9,0.3],[3.4,0.2],[4.2,-0.4],[5.6,-0.7],[6.6,0.3],[7.9,0.1],[9.1,0.4],[10.9,-0.6],[12.1,0.1],[13.8,0.0],[15.6,-1.0],[17.4,-0.6],[19.1,0.1],[20.1,0.6],[3.9,-0.9],[8.4,-0.1],[14.8,0.3]];

const allPts = [fullLegPts, femoralPts, tibialPts, mJLCAPts, mLDFAPts, mLDTAPts.concat(mLDTAPtsB), mLPFAPts.concat(mLPFAPtsB), mMPTAPts.concat(mMPTAPtsB), mTFAPts, aLDFAPts, aLDTAPts.concat(aLDTAPtsB), aMPFAPts.concat(aMPFAPtsB), aMPTAPts.concat(aMPTAPtsB), aTFAPts, madPts.concat(madPtsB)];

const upperVals = [-0.055, 0.055, 0.13, 1.3, 1.1, 2.4, 1.18, 1.4, 1.09, 1.08, 1.17, 1.08, 1.61, 1.17, 2.07];
const meanVals = [-1.2, -1.16, -1.16, 0.03, -0.12, -0.36, -0.42, -0.24, 0.03, -0.01, 0.03, -0.01, 0.07, 0.04, -0.36];
const lowerVals = [-2.36, -2.39, -2.45, -1.2, -1.33, -3.12, -2.0, -1.87, -1.0, -1.06, -1.1, -1.06, -1.49, -1.07, -2.76];
const upperLabels = ["-0.055", "0.055", "0.13", "1.3", "1.1", "2.4", "1.2", "1.4", "1.1", "1.1", "1.2", "1.1", "1.6", "1.2", "2.1"];
const meanLabels = ["-1.2", "-1.16", "-1.16", "0.04", "-0.13", "-0.35", "-0.43", "-0.25", "0.03", "-0.01", "0.03", "-0.01", "0.07", "0.04", "-0.38"];
const lowerLabels = ["-2.3", "-2.4", "-2.5", "-1.2", "-1.3", "-3.1", "-2", "-1.9", "-1", "-1.1", "-1.1", "-1.1", "-1.5", "-1.1", "-2.8"];

const xMins = [65.9, 36.3, 27.7, -0.3, 81.1, 79.4, 74.9, 71.8, -0.9, 73.6, 75.6, 56.4, 72.0, -0.9, -3.3];
const xMaxs = [102.2, 57.55, 43.8, 10.4, 99.45, 121.6, 115.05, 103.7, 18.74, 93.1, 119, 101.6, 108.4, 15.8, 67];
const yMins = [-2.95, -3.0, -3.08, -1.82, -1.94, -4.49, -2.83, -2.7, -1.55, -1.59, -1.65, -1.59, -2.21, -1.66, -4.05];
const yMaxs = [0.54, 0.63, 0.78, 1.88, 1.7, 3.79, 1.95, 2.21, 1.6, 1.62, 1.74, 1.62, 2.4, 1.72, 3.29];

const xTicks = [[70, 80, 90, 100], [40, 45, 50, 55], [30, 35, 40], [0, 2.5, 5, 7.5, 10], [85, 90, 95], [80, 90, 100, 110, 120], [80, 90, 100, 110], [80, 90, 100], [0, 5, 10, 15], [75, 80, 85, 90], [80, 90, 100, 110], [60, 70, 80, 90, 100], [80, 90, 100], [0, 5, 10, 15], [0, 20, 40, 60]];
const yTicks = [[-2, -1, 0], [-2, -1, 0], [-3, -2, -1, 0], [-1, 0, 1], [-1, 0, 1], [-4, -2, 0, 2], [-2, -1, 0, 1], [-2, -1, 0, 1, 2], [-1, 0, 1], [-1, 0, 1], [-1, 0, 1], [-1, 0, 1], [-2, -1, 0, 1, 2], [-1, 0, 1], [-4, -2, 0, 2]];
const xDecimals = [0, 0, 0, 1, 0, 0, 0, 0, 0, 0, 0, 0, 0, 0, 0];

const sectionLabels = ["(a)", "(b)", "(c)"];

// ---------- LAYOUT ----------
const gridBoxes = [
  [45, 44, 178, 109], [287, 44, 179, 109], [523, 44, 180, 109],
  [45, 250, 175, 108], [284, 250, 180, 108], [523, 250, 175, 108],
  [45, 429, 179, 109], [283, 429, 181, 109], [523, 429, 180, 109],
  [46, 636, 178, 108], [285, 636, 179, 108], [524, 636, 174, 108],
  [45, 808, 178, 108], [285, 808, 178, 108], [522, 808, 178, 108],
];
const sectionY = [9, 215, 605];

const FONT = "DejaVu Sans";
const fmtNum = (v: number, d: number) => (d > 0 ? v.toFixed(d) : String(v)).replace("-", "\u2212");

export default function App() {
  const ref = useRef<HTMLDivElement>(null);
  useEffect(() => {
    if (!ref.current) return;
    const chart = echarts.init(ref.current, null, { renderer: "svg" });
    const grid: any[] = [];
    const xAxis: any[] = [];
    const yAxis: any[] = [];
    const series: any[] = [];
    const graphic: any[] = [];
    const frame = "#4a4a4a";
    const lineGray = "#8f8f8f";
    const txt = "#111";

    titles.forEach((t, i) => {
      const [l, tp, w, h] = gridBoxes[i];
      grid.push({ left: l, top: tp, width: w, height: h, show: true, borderColor: frame, borderWidth: 1, backgroundColor: "transparent", containLabel: false });
      xAxis.push({
        type: "value", gridIndex: i, min: xMins[i], max: xMaxs[i],
        name: "Means", nameLocation: "middle", nameGap: 17,
        nameTextStyle: { fontFamily: FONT, fontSize: 12.5, color: txt },
        axisLine: { show: true, onZero: false, lineStyle: { color: frame, width: 1 } },
        axisTick: { show: true, length: 3, customValues: xTicks[i], lineStyle: { color: frame } },
        axisLabel: { customValues: xTicks[i], margin: 4, fontFamily: FONT, fontSize: 10.5, color: "#222", formatter: (v: number) => fmtNum(v, xDecimals[i]) },
        splitLine: { show: false },
      });
      yAxis.push({
        type: "value", gridIndex: i, min: yMins[i], max: yMaxs[i],
        name: "Difference", nameLocation: "middle", nameGap: 22, nameRotate: 90,
        nameTextStyle: { fontFamily: FONT, fontSize: 12.5, color: txt },
        axisLine: { show: true, onZero: false, lineStyle: { color: frame, width: 1 } },
        axisTick: { show: true, length: 3, customValues: yTicks[i], lineStyle: { color: frame } },
        axisLabel: { customValues: yTicks[i], margin: 4, fontFamily: FONT, fontSize: 10.5, color: "#222", formatter: (v: number) => fmtNum(v, 0) },
        splitLine: { show: false },
      });
      const lbl = (text: string, position: string, dist: number[], extra: any = {}) => ({
        show: true, position, formatter: text, distance: dist,
        fontFamily: FONT, fontSize: 11, color: txt, align: "right", ...extra,
      });
      series.push({
        type: "scatter", xAxisIndex: i, yAxisIndex: i, data: allPts[i],
        symbol: "circle", symbolSize: 5.5, itemStyle: { color: "#1f77b4", opacity: 1 },
        markLine: {
          silent: true, symbol: "none", animation: false,
          data: [
            { yAxis: upperVals[i], lineStyle: { type: [3, 2], color: lineGray, width: 1 }, label: lbl("+1.96 SD: " + upperLabels[i], "insideEndTop", [3, 7]) },
            { yAxis: meanVals[i], lineStyle: { type: "solid", color: lineGray, width: 1.5 }, label: lbl("mean diff:\n" + meanLabels[i], "insideEnd", [3, 0], { lineHeight: 15 }) },
            { yAxis: lowerVals[i], lineStyle: { type: [3, 2], color: lineGray, width: 1 }, label: lbl("-1.96 SD: " + lowerLabels[i], "insideEndBottom", [3, 0]) },
          ],
        },
      });
      graphic.push({
        type: "text", x: l + w / 2, y: tp - 11,
        style: { text: t, fontFamily: FONT, fontSize: 15, fill: txt, textAlign: "center", textVerticalAlign: "middle" },
      });
    });
    sectionLabels.forEach((s, k) => {
      graphic.push({
        type: "text", x: 1, y: sectionY[k],
        style: { text: s, fontFamily: "Open Sans", fontWeight: "bold", fontSize: 15, fill: "#111", textAlign: "left", textVerticalAlign: "middle" },
      });
    });

    chart.setOption({
      animation: false,
      backgroundColor: "#ffffff",
      textStyle: { fontFamily: FONT },
      grid, xAxis, yAxis, series, graphic,
    });
    return () => chart.dispose();
  }, []);
  return <div ref={ref} style={{ position: "absolute", left: 0, top: 0, width: 710, height: 957, background: "#fff" }} />;
}
